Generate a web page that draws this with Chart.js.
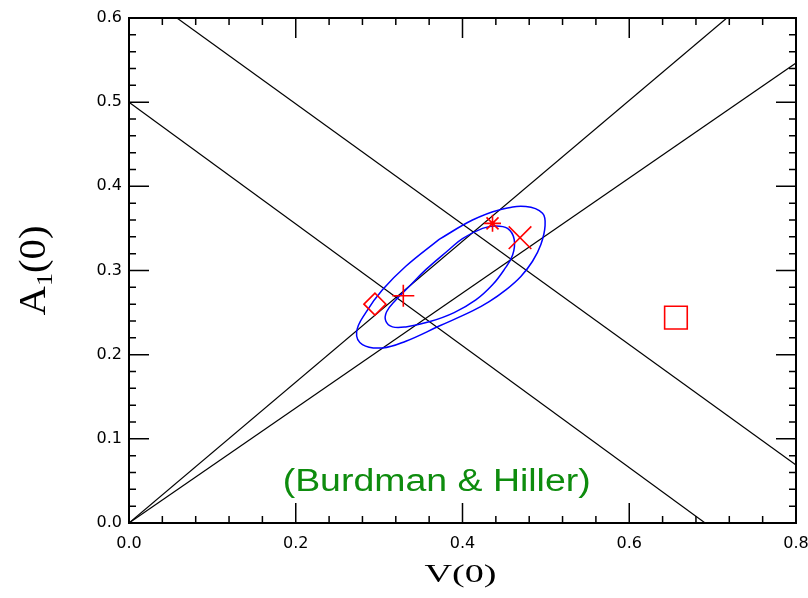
<!DOCTYPE html>
<html lang="en">
<head>
<meta charset="UTF-8">
<title>A1(0) vs V(0)</title>
<script src="https://cdn.jsdelivr.net/npm/chart.js"></script>
<style>
  html, body { margin: 0; padding: 0; background: #fff; }
</style>
</head>
<body>
<canvas id="myChart" width="808" height="598"></canvas>
<script>
// straight constraint lines (end points)
const lineA = [{x: 0.0575, y: 0.6}, {x: 0.8, y: 0.069}];
const lineB = [{x: 0.0, y: 0.5}, {x: 0.691, y: 0.0}];
const lineC = [{x: 0.0, y: 0.0}, {x: 0.717, y: 0.6}];
const lineD = [{x: 0.0, y: 0.0}, {x: 0.8, y: 0.5465}];

// error ellipses, points
const outerEllipse = [
  {x: 0.372, y: 0.337}, {x: 0.412, y: 0.360}, {x: 0.444, y: 0.372}, {x: 0.476, y: 0.376},
  {x: 0.496, y: 0.368}, {x: 0.499, y: 0.353}, {x: 0.494, y: 0.331}, {x: 0.484, y: 0.311},
  {x: 0.470, y: 0.293}, {x: 0.452, y: 0.277}, {x: 0.432, y: 0.263}, {x: 0.412, y: 0.252},
  {x: 0.372, y: 0.234}, {x: 0.332, y: 0.216}, {x: 0.304, y: 0.208}, {x: 0.280, y: 0.212},
  {x: 0.273, y: 0.227}, {x: 0.284, y: 0.250}, {x: 0.304, y: 0.277}, {x: 0.332, y: 0.305},
  {x: 0.372, y: 0.337}
];
const innerEllipse = [
  {x: 0.384, y: 0.325}, {x: 0.400, y: 0.338}, {x: 0.424, y: 0.350}, {x: 0.439, y: 0.353},
  {x: 0.454, y: 0.350}, {x: 0.462, y: 0.337}, {x: 0.460, y: 0.318}, {x: 0.450, y: 0.301},
  {x: 0.436, y: 0.283}, {x: 0.416, y: 0.265}, {x: 0.390, y: 0.250}, {x: 0.360, y: 0.239},
  {x: 0.332, y: 0.233}, {x: 0.316, y: 0.233}, {x: 0.308, y: 0.240}, {x: 0.309, y: 0.251},
  {x: 0.320, y: 0.265}, {x: 0.336, y: 0.281}, {x: 0.356, y: 0.301}, {x: 0.384, y: 0.325}
];

// individual estimates
const diamondPt = [{x: 0.295, y: 0.260}];
const plusPt = [{x: 0.329, y: 0.270}];
const starPt = [{x: 0.436, y: 0.356}];
const crossPt = [{x: 0.469, y: 0.339}];
const squarePt = [{x: 0.656, y: 0.244}];

const xTicks = [0.0, 0.2, 0.4, 0.6, 0.8];
const yTicks = [0.0, 0.1, 0.2, 0.3, 0.4, 0.5, 0.6];

const RED = '#ff0000';
const BLUE = '#0000ff';

function marker(data, style, r) {
  return {
    data: data, showLine: false, pointStyle: style, pointRadius: r,
    pointBorderColor: RED, pointBackgroundColor: 'rgba(0,0,0,0)', pointBorderWidth: 1.6
  };
}
function straight(data) {
  return { data: data, showLine: true, borderColor: '#000', borderWidth: 1.2, pointRadius: 0, tension: 0 };
}
function ellipse(data) {
  return { data: data, showLine: true, borderColor: BLUE, borderWidth: 1.5, pointRadius: 0, tension: 0.4 };
}

// box + inward ticks on all four sides
const frame = {
  id: 'frame',
  afterDatasetsDraw(chart) {
    const ctx = chart.ctx, a = chart.chartArea;
    const xs = chart.scales.x, ys = chart.scales.y;
    ctx.save();
    ctx.strokeStyle = '#000';
    ctx.lineWidth = 1.5;
    ctx.beginPath();
    for (let i = 0; i <= 20; i++) {
      const px = xs.getPixelForValue(i * 0.04);
      const len = i % 5 === 0 ? 20 : 7;
      ctx.moveTo(px, a.bottom); ctx.lineTo(px, a.bottom - len);
      ctx.moveTo(px, a.top); ctx.lineTo(px, a.top + len);
    }
    for (let i = 0; i <= 30; i++) {
      const py = ys.getPixelForValue(i * 0.02);
      const len = i % 5 === 0 ? 20 : 7;
      ctx.moveTo(a.left, py); ctx.lineTo(a.left + len, py);
      ctx.moveTo(a.right, py); ctx.lineTo(a.right - len, py);
    }
    ctx.stroke();
    ctx.lineWidth = 2;
    ctx.strokeRect(a.left, a.top, a.right - a.left, a.bottom - a.top);
    ctx.restore();
  }
};

// text drawn squeezed/stretched to the width it has in the figure
function fitText(ctx, parts, width) {
  let w = 0;
  parts.forEach(p => { ctx.font = p.font; w += ctx.measureText(p.t).width; });
  const s = width / w;
  ctx.scale(s, 1);
  let x = -w / 2;
  parts.forEach(p => {
    ctx.font = p.font;
    ctx.fillText(p.t, x, p.dy || 0);
    x += ctx.measureText(p.t).width;
  });
}

const labels = {
  id: 'labels',
  afterDraw(chart) {
    const ctx = chart.ctx, a = chart.chartArea;
    ctx.save();
    ctx.textBaseline = 'alphabetic';
    ctx.textAlign = 'left';

    // x title
    ctx.save();
    ctx.fillStyle = '#000';
    ctx.translate((a.left + a.right) / 2 - 2, a.bottom + 59);
    fitText(ctx, [{t: 'V(0)', font: '25px "Liberation Serif"'}], 72);
    ctx.restore();

    // y title
    ctx.save();
    ctx.fillStyle = '#000';
    ctx.translate(45, (a.top + a.bottom) / 2);
    ctx.rotate(-Math.PI / 2);
    fitText(ctx, [
      {t: 'A', font: '37px "Liberation Serif"'},
      {t: '1', font: '24px "Liberation Serif"', dy: 7},
      {t: '(0)', font: '37px "Liberation Serif"'}
    ], 90);
    ctx.restore();

    // green caption
    ctx.save();
    ctx.fillStyle = '#0e8c0e';
    ctx.translate(chart.scales.x.getPixelForValue(0.369), chart.scales.y.getPixelForValue(0.0375));
    fitText(ctx, [{t: '(Burdman & Hiller)', font: '31px "Liberation Sans"'}], 308);
    ctx.restore();

    ctx.restore();
  }
};

const ctx = document.getElementById('myChart').getContext('2d');
const chart = new Chart(ctx, {
  type: 'scatter',
  data: {
    datasets: [
      marker(diamondPt, 'rectRot', 11),
      marker(plusPt, 'cross', 11),
      marker(starPt, 'star', 8.5),
      marker(crossPt, 'crossRot', 16),
      marker(squarePt, 'rect', 16),
      ellipse(outerEllipse),
      ellipse(innerEllipse),
      straight(lineA),
      straight(lineB),
      straight(lineC),
      straight(lineD)
    ]
  },
  options: {
    responsive: false,
    animation: false,
    layout: { autoPadding: false, padding: { top: 18, right: 12, left: 0, bottom: 0 } },
    plugins: { legend: { display: false }, tooltip: { enabled: false } },
    scales: {
      x: {
        type: 'linear', min: 0, max: 0.8,
        afterBuildTicks: s => { s.ticks = xTicks.map(v => ({value: v})); },
        afterFit: s => { s.height = 75; s.paddingLeft = 0; s.paddingRight = 0; },
        grid: { display: false, drawTicks: false },
        border: { display: false },
        ticks: {
          autoSkip: false, maxRotation: 0, padding: 11, color: '#000',
          font: { family: 'DejaVu Sans', size: 16 },
          callback: v => v.toFixed(1)
        }
      },
      y: {
        type: 'linear', min: 0, max: 0.6,
        afterBuildTicks: s => { s.ticks = yTicks.map(v => ({value: v})); },
        afterFit: s => { s.width = 129; s.paddingTop = 0; s.paddingBottom = 0; },
        grid: { display: false, drawTicks: false },
        border: { display: false },
        ticks: {
          autoSkip: false, padding: 7, color: '#000',
          font: { family: 'DejaVu Sans', size: 16 },
          callback: v => v.toFixed(1)
        }
      }
    }
  },
  plugins: [frame, labels]
});
</script>
</body>
</html>
